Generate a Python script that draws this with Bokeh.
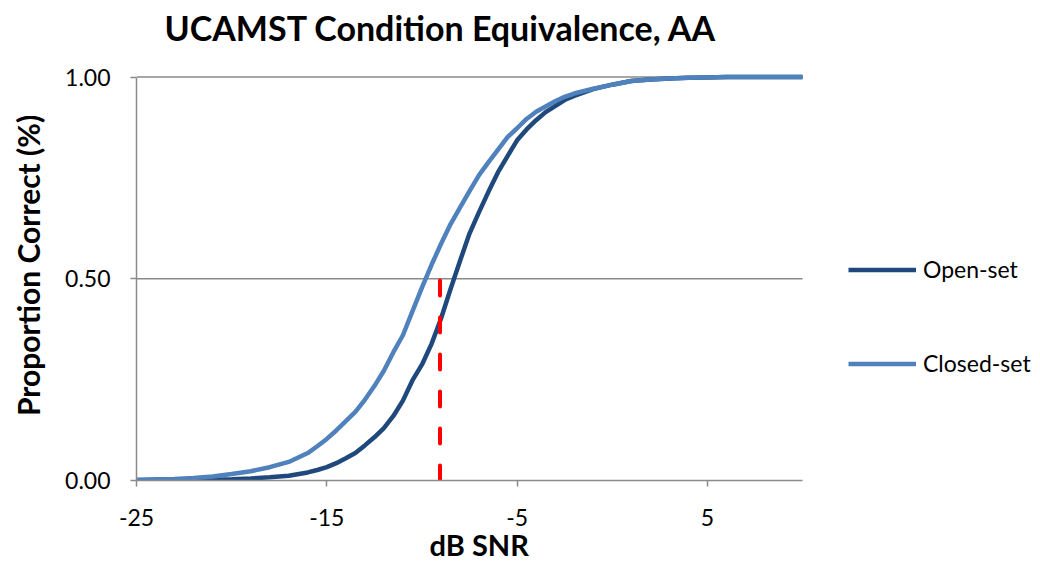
from bokeh.plotting import figure
from bokeh.models import Range1d, FixedTicker, Legend, LegendItem, Title, NumeralTickFormatter
from bokeh.embed import file_html
from bokeh.resources import INLINE

# dB SNR sample points
snr = [-25, -24, -23, -22, -21, -20, -19, -18, -17, -16, -15.5, -15, -14.5, -14, -13.5, -13,
       -12.5, -12, -11.5, -11, -10.5, -10, -9.5, -9, -8.5, -8, -7.5, -7, -6.5, -6, -5.5, -5,
       -4.5, -4, -3.5, -3, -2.5, -2, -1, 0, 1, 2, 3, 4, 5, 6, 7, 8, 9, 10]

open_set = [0.000, 0.000, 0.001, 0.001, 0.002, 0.003, 0.005, 0.008, 0.012, 0.020, 0.026, 0.033,
            0.043, 0.055, 0.068, 0.087, 0.107, 0.130, 0.160, 0.198, 0.248, 0.287, 0.338, 0.401,
            0.474, 0.544, 0.612, 0.665, 0.716, 0.764, 0.804, 0.843, 0.870, 0.893, 0.913, 0.928,
            0.943, 0.953, 0.970, 0.981, 0.990, 0.994, 0.996, 0.998, 0.999, 1.000, 1.000, 1.000,
            1.000, 1.000]

closed_set = [0.002, 0.003, 0.004, 0.006, 0.010, 0.016, 0.023, 0.033, 0.046, 0.068, 0.085, 0.103,
              0.124, 0.147, 0.170, 0.200, 0.234, 0.272, 0.318, 0.360, 0.419, 0.478, 0.534, 0.586,
              0.635, 0.676, 0.717, 0.757, 0.789, 0.820, 0.851, 0.873, 0.896, 0.914, 0.927, 0.940,
              0.951, 0.959, 0.971, 0.981, 0.990, 0.994, 0.996, 0.998, 0.999, 1.000, 1.000, 1.000,
              1.000, 1.000]

# equivalence marker (midpoint of the two 50% points)
equiv_x = [-9.05, -9.05]
equiv_y = [0.0, 0.5]

x_min, x_max = -25, 10
y_min, y_max = 0.0, 1.0
x_ticks = [-25, -15, -5, 5]
x_tick_labels = ["-25", "-15", "-5", "5"]
y_ticks = [0.0, 0.5, 1.0]
y_grid = [0.5, 1.0]

FONT = "Lato"
GRAY = "#8a8a8a"

# layout (pixels): the frame extends right (legend area) and up (title room);
# the data area itself is x_min..x_max, y_min..y_max
W, H = 1040, 567
LEFT, TOP, BOTTOM = 136, 50, 87
DATA_RIGHT, DATA_TOP = 802, 76.5
x_end = x_min + (x_max - x_min) * (W - LEFT) / (DATA_RIGHT - LEFT)
y_end = y_min + (y_max - y_min) * (H - BOTTOM - TOP) / (H - BOTTOM - DATA_TOP)

p = figure(width=W, height=H, output_backend="svg", toolbar_location=None,
           x_range=Range1d(x_min, x_end), y_range=Range1d(y_min, y_end),
           min_border_left=LEFT, min_border_right=0, min_border_top=TOP,
           min_border_bottom=BOTTOM)
p.outline_line_color = None
p.background_fill_color = "white"
p.border_fill_color = "white"

title = Title(text="UCAMST Condition Equivalence, AA", align="left", offset=28,
              text_font=FONT, text_font_size="34px", text_font_style="bold",
              text_color="black", vertical_align="bottom", standoff=6)
p.add_layout(title, "above")

# horizontal gridlines limited to the data area
p.segment(x0=[x_min] * len(y_grid), y0=y_grid, x1=[x_max] * len(y_grid), y1=y_grid,
          line_color=GRAY, line_width=1.5)

r_open = p.line(snr, open_set, line_color="#1f497d", line_width=4.5)
r_closed = p.line(snr, closed_set, line_color="#4f81bd", line_width=4.5)
p.line(equiv_x, equiv_y, line_color="red", line_width=4, line_dash="15 22", line_cap="round")

# axes
p.xaxis.ticker = FixedTicker(ticks=x_ticks)
p.xaxis.bounds = (x_min, x_max)
p.xaxis.major_label_overrides = {t: s for t, s in zip(x_ticks, x_tick_labels)}
p.yaxis.ticker = FixedTicker(ticks=y_ticks)
p.yaxis.bounds = (y_min, y_max)
p.yaxis.formatter = NumeralTickFormatter(format="0.00")
for ax in (p.xaxis[0], p.yaxis[0]):
    ax.axis_line_color = GRAY
    ax.axis_line_width = 1.5
    ax.major_tick_line_color = GRAY
    ax.major_tick_line_width = 1.5
    ax.major_tick_out = 6
    ax.major_tick_in = 0
    ax.minor_tick_line_color = None
    ax.major_label_text_font = FONT
    ax.major_label_text_font_size = "23px"
    ax.major_label_text_color = "black"
    ax.axis_label_text_font = FONT
    ax.axis_label_text_font_style = "bold"
    ax.axis_label_text_color = "black"

p.xaxis.major_label_standoff = 22
p.yaxis.axis_label = "Proportion Correct (%)"
p.yaxis.axis_label_text_font_size = "30px"
p.yaxis.major_label_standoff = 20
p.yaxis.axis_label_standoff = 16

# x-axis title, centred under the data area
xlabel = Title(text="dB SNR", align="left", offset=293, text_font=FONT,
               text_font_size="29px", text_font_style="bold", text_color="black",
               vertical_align="top", standoff=-4)
p.add_layout(xlabel, "below")

p.xgrid.grid_line_color = None
p.ygrid.grid_line_color = None

legend = Legend(items=[LegendItem(label="Open-set", renderers=[r_open]),
                       LegendItem(label="Closed-set", renderers=[r_closed])],
                location=(712, 103), orientation="vertical",
                glyph_width=68, glyph_height=27, label_height=27, label_standoff=7,
                spacing=66, padding=0, margin=0,
                label_text_font=FONT, label_text_font_size="23px", label_text_color="black",
                border_line_color=None, background_fill_alpha=0)
p.add_layout(legend, "center")

open("out.html", "w").write(file_html(p, INLINE))
